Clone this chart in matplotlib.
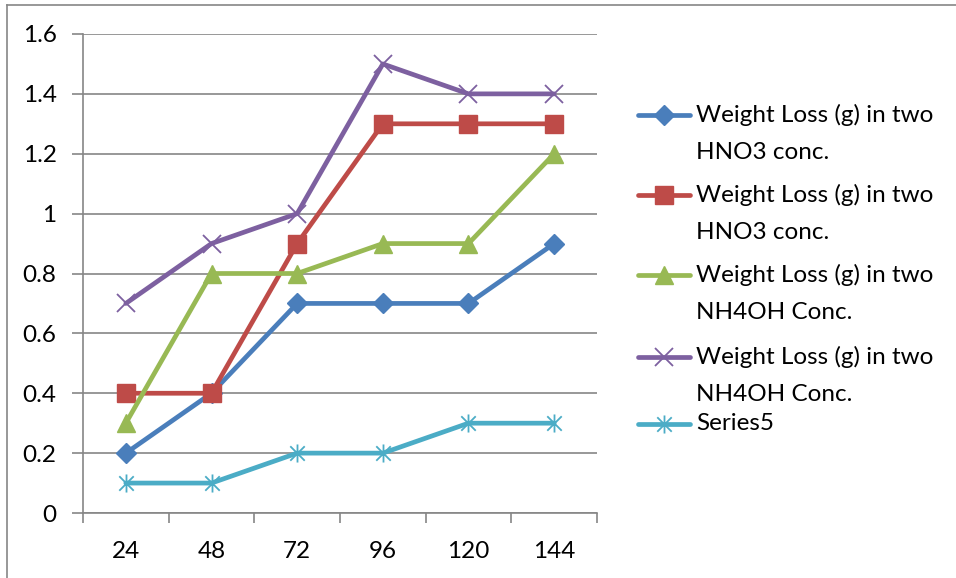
import numpy as np
import matplotlib.pyplot as plt
from matplotlib.lines import Line2D
from matplotlib.path import Path

plt.rcParams['font.family'] = ['Lato', 'DejaVu Sans']

# Tempo (h) e perda de massa (g)
hours = ['24', '48', '72', '96', '120', '144']

hno3_a   = [0.2, 0.4, 0.7, 0.7, 0.7, 0.9]
hno3_b   = [0.4, 0.4, 0.9, 1.3, 1.3, 1.3]
nh4oh_a  = [0.3, 0.8, 0.8, 0.9, 0.9, 1.2]
nh4oh_b  = [0.7, 0.9, 1.0, 1.5, 1.4, 1.4]
series5  = [0.1, 0.1, 0.2, 0.2, 0.3, 0.3]

labels = ['Weight Loss (g) in two\nHNO3 conc.',
          'Weight Loss (g) in two\nHNO3 conc.',
          'Weight Loss (g) in two\nNH4OH Conc.',
          'Weight Loss (g) in two\nNH4OH Conc.',
          'Series5']

# asterisco estilo Excel: vertical + diagonais
star = Path([(0, -1), (0, 1), (-0.8, -0.8), (0.8, 0.8), (-0.8, 0.8), (0.8, -0.8)],
            [Path.MOVETO, Path.LINETO, Path.MOVETO, Path.LINETO, Path.MOVETO, Path.LINETO])

styles = [
    dict(color='#4A7EBB', marker='D', ms=10, mec='#4A7EBB', mfc='#4A7EBB', mew=1),
    dict(color='#BE4B48', marker='s', ms=13, mec='#BE4B48', mfc='#BE4B48', mew=1),
    dict(color='#98B954', marker='^', ms=13, mec='#98B954', mfc='#98B954', mew=1),
    dict(color='#7D60A0', marker='x', ms=13, mec='#7D60A0', mew=1.3),
    dict(color='#4BACC6', marker=star, ms=13, mec='#4BACC6', mfc='none', mew=1.3),
]
data = [hno3_a, hno3_b, nh4oh_a, nh4oh_b, series5]

FS = 17.5
W, H = 956, 578
fig = plt.figure(figsize=(W / 100, H / 100), dpi=100)
ax = fig.add_axes([83 / W, (H - 513) / H, (597 - 83) / W, (513 - 34) / H])

x = np.arange(len(hours))
for y, st in zip(data, styles):
    ax.plot(x, y, lw=3.4, solid_capstyle='round', solid_joinstyle='round', **st)

ax.set_xlim(-0.5, len(hours) - 0.5)
ax.set_ylim(0, 1.6)
ax.set_yticks(np.arange(0, 1.61, 0.2))
ax.set_yticklabels(['0', '0.2', '0.4', '0.6', '0.8', '1', '1.2', '1.4', '1.6'])
ax.set_xticks(x)
ax.set_xticklabels(hours)
ax.set_xticks(np.arange(-0.5, len(hours), 1), minor=True)
ax.tick_params(axis='x', which='major', length=0, pad=20, labelsize=FS)
ax.tick_params(axis='x', which='minor', length=7, width=1.2, color='#868686', direction='out')
ax.tick_params(axis='y', length=8, width=1.2, color='#868686', pad=11, labelsize=FS)
ax.grid(axis='y', color='#868686', lw=1.2)
ax.set_axisbelow(True)
for s in ['top', 'right']:
    ax.spines[s].set_visible(False)
for s in ['left', 'bottom']:
    ax.spines[s].set_color('#868686')
    ax.spines[s].set_linewidth(1.2)

# legenda com o simbolo alinhado na primeira linha do texto
leg_y = [115, 195, 275, 357, 424]
for yy, lab, st in zip(leg_y, labels, styles):
    yf = 1 - yy / H
    fig.add_artist(Line2D([638 / W, 690 / W], [yf, yf], lw=3.4, solid_capstyle='round',
                          color=st['color']))
    fig.add_artist(Line2D([664 / W], [yf], ls='none',
                          **{k: v for k, v in st.items() if k != 'color'}))
    fig.text(696 / W, 1 - (yy - 11) / H, lab, fontsize=FS, va='top', ha='left',
             linespacing=1.95)

# moldura externa
fig.add_artist(Line2D([7 / W, 7 / W], [0, 1 - 5 / H], color='#868686', lw=1.2))
fig.add_artist(Line2D([7 / W, 1], [1 - 5 / H, 1 - 5 / H], color='#868686', lw=1.2))

fig.savefig('out.png', dpi=100)
